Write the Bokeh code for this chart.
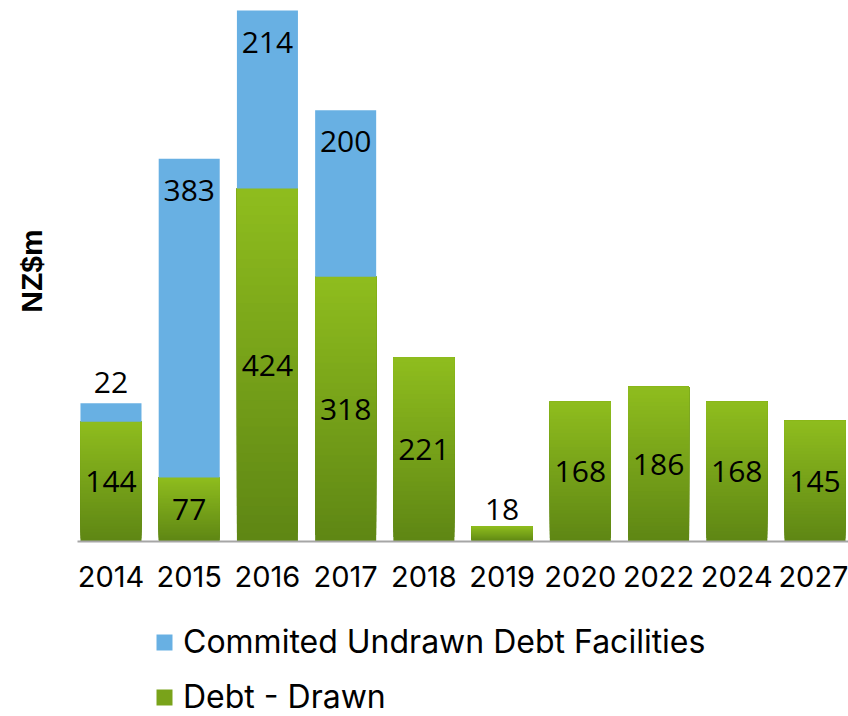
from bokeh.plotting import figure
from bokeh.layouts import column
from bokeh.models import Range1d, FixedTicker, Legend, LegendItem, ColumnDataSource
from bokeh.core.properties import value
from bokeh.embed import file_html
from bokeh.resources import INLINE

years = ["2014", "2015", "2016", "2017", "2018", "2019", "2020", "2022", "2024", "2027"]
drawn = [144, 77, 424, 318, 221, 18, 168, 186, 168, 145]
undrawn = [22, 383, 214, 200, 0, 0, 0, 0, 0, 0]
series_names = ["Commited Undrawn Debt Facilities", "Debt - Drawn"]

BLUE = "#68b0e3"
GREEN_MID = "#79a31a"
G_TOP = (0x8f, 0xbd, 0x1e)
G_BOT = (0x5e, 0x86, 0x14)
FONT = "Inter"
LFONT = "Open Sans"
W = 0.78

xpos = [i + 0.5 for i in range(len(years))]

p = figure(x_range=Range1d(0.072, 9.928), y_range=Range1d(0, 650.0),
           width=848, height=604, output_backend="svg", toolbar_location=None,
           min_border_top=0, min_border_left=77, min_border_right=0, min_border_bottom=63)
p.outline_line_color = None
p.grid.grid_line_color = None

# green gradient bars: overlapping layers from bottom to top
N = 40
xs, bots, tops, cols = [], [], [], []
for i in range(N):
    t = (i + 0.5) / N
    c = tuple(int(round(G_BOT[k] + (G_TOP[k] - G_BOT[k]) * t)) for k in range(3))
    for x, d in zip(xpos, drawn):
        xs.append(x)
        bots.append(d * i / N)
        tops.append(d)
        cols.append("#%02x%02x%02x" % c)
p.vbar(x=xs, bottom=bots, top=tops, width=W, fill_color=cols, line_color=None)

# blue
bx = [x for x, u in zip(xpos, undrawn) if u > 0]
bb = [d for d, u in zip(drawn, undrawn) if u > 0]
bt = [d + u for d, u in zip(drawn, undrawn) if u > 0]
p.vbar(x=bx, bottom=bb, top=bt, width=W, fill_color=BLUE, line_color=None)

# labels
lx, ly, lt, lb = [], [], [], []
for x, d, u in zip(xpos, drawn, undrawn):
    if d < 40:
        lx.append(x); ly.append(d + 8); lt.append(str(d)); lb.append("bottom")
    else:
        lx.append(x); ly.append(d / 2); lt.append(str(d)); lb.append("middle")
    if u > 0:
        if u < 40:
            lx.append(x); ly.append(d + u + 12); lt.append(str(u)); lb.append("bottom")
        else:
            lx.append(x); ly.append(d + u - 38); lt.append(str(u)); lb.append("middle")
src = ColumnDataSource(dict(x=lx, y=ly, t=lt, b=lb))
p.text(x="x", y="y", text="t", text_baseline="b", source=src, text_align="center",
       text_font=value(LFONT), text_font_size="30px", text_color="black")

# axes
p.xaxis.ticker = FixedTicker(ticks=xpos)
p.xaxis.major_label_overrides = {x: y for x, y in zip(xpos, years)}
p.xaxis.axis_line_color = "#a6a6a6"
p.xaxis.axis_line_width = 2
p.xaxis.major_tick_line_color = None
p.xaxis.minor_tick_line_color = None
p.xaxis.major_label_text_font = FONT
p.xaxis.major_label_text_font_size = "29px"
p.xaxis.major_label_text_color = "black"
p.xaxis.major_label_standoff = 18

p.yaxis.ticker = FixedTicker(ticks=[])
p.yaxis.axis_line_color = None
p.yaxis.major_tick_line_color = None
p.yaxis.minor_tick_line_color = None
p.yaxis.axis_label = "NZ$m"
p.yaxis.axis_label_text_font = "Liberation Sans"
p.yaxis.axis_label_text_font_style = "bold"
p.yaxis.axis_label_text_font_size = "30px"
p.yaxis.axis_label_text_color = "black"
p.yaxis.axis_label_standoff = 30

# legend figure
q = figure(x_range=Range1d(0, 1), y_range=Range1d(0, 1), width=848, height=112,
           output_backend="svg", toolbar_location=None,
           min_border_top=0, min_border_left=0, min_border_right=0, min_border_bottom=0)
q.outline_line_color = None
q.grid.grid_line_color = None
q.axis.visible = False
rb = q.vbar(x=[0.5], bottom=[0], top=[0], width=0.1, fill_color=BLUE, line_color=None)
rg = q.vbar(x=[0.5], bottom=[0], top=[0], width=0.1, fill_color=GREEN_MID, line_color=None)
legend = Legend(items=[LegendItem(label=series_names[0], renderers=[rb]),
                       LegendItem(label=series_names[1], renderers=[rg])],
                orientation="vertical", location=(77, 0),
                glyph_width=20, glyph_height=20, label_height=30, spacing=16,
                label_text_font=FONT, label_text_font_size="32px", label_text_color="black",
                label_standoff=9, padding=0, margin=0,
                border_line_color=None, background_fill_alpha=0)
q.add_layout(legend, "center")

layout = column(p, q, spacing=0)
open("out.html", "w").write(file_html(layout, INLINE))
